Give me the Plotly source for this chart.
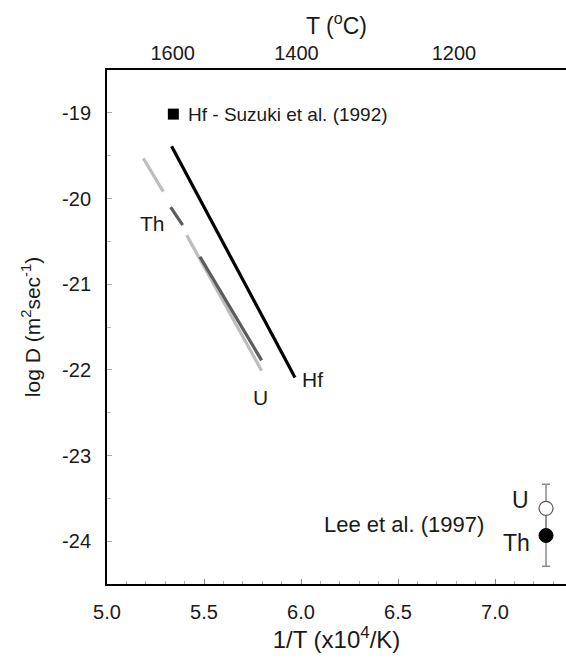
import plotly.graph_objects as go

# ---- data ----
hf_x = [5.333, 5.969]
hf_y = [-19.39, -22.09]

u_dash_x = [5.187, 5.290]
u_dash_y = [-19.53, -19.92]
u_x = [5.411, 5.797]
u_y = [-20.43, -22.01]

th_dash_x = [5.328, 5.390]
th_dash_y = [-20.10, -20.31]
th_x = [5.479, 5.797]
th_y = [-20.68, -21.89]

suzuki_x = [5.342]
suzuki_y = [-19.015]

lee_x = [7.263]
lee_u_y = [-23.617]
lee_u_err = [0.28]
lee_th_y = [-23.934]
lee_th_err = [0.36]

top_T_labels = [1600, 1400, 1200]
x_ticks = [5.0, 5.5, 6.0, 6.5, 7.0]
y_ticks = [-19, -20, -21, -22, -23, -24]

FONT = "Liberation Sans, Arial, sans-serif"
TXT = "#1a1a1a"

fig = go.Figure()

def seg(x, y, color, dash="solid"):
    fig.add_trace(go.Scatter(x=x, y=y, mode="lines",
                             line=dict(color=color, width=3.2, dash=dash),
                             showlegend=False, hoverinfo="skip"))

seg(u_dash_x, u_dash_y, "#bdbdbd")
seg(u_x, u_y, "#bdbdbd")
seg(th_dash_x, th_dash_y, "#5c5c5c")
seg(th_x, th_y, "#5c5c5c")
seg(hf_x, hf_y, "#000000")

fig.add_trace(go.Scatter(x=suzuki_x, y=suzuki_y, mode="markers",
                         marker=dict(symbol="square", size=11, color="black"),
                         showlegend=False))

# error bars first (invisible markers), then the markers on top
for yy, ee in ((lee_th_y, lee_th_err), (lee_u_y, lee_u_err)):
    fig.add_trace(go.Scatter(x=lee_x, y=yy, mode="markers",
                             marker=dict(size=1, opacity=0),
                             error_y=dict(type="data", array=ee, color="#8a8a8a",
                                          thickness=1.5, width=4),
                             showlegend=False, hoverinfo="skip"))
fig.add_trace(go.Scatter(x=lee_x, y=lee_th_y, mode="markers",
                         marker=dict(symbol="circle", size=14, color="black",
                                     line=dict(color="black", width=1)),
                         showlegend=False))
fig.add_trace(go.Scatter(x=lee_x, y=lee_u_y, mode="markers",
                         marker=dict(symbol="circle", size=14, color="white",
                                     line=dict(color="#555555", width=1.2)),
                         showlegend=False))

# dummy trace for top axis
top_vals = [1e4 / (t + 273.15) for t in top_T_labels]
fig.add_trace(go.Scatter(x=[top_vals[0]], y=[-19], xaxis="x2", mode="markers",
                         marker=dict(opacity=0), showlegend=False, hoverinfo="skip"))

def ann(text, x, y, xanchor="center", size=20):
    fig.add_annotation(x=x, y=y, text=text, showarrow=False, xanchor=xanchor,
                       yanchor="middle", font=dict(family=FONT, size=size, color=TXT))

ann("Hf - Suzuki et al. (1992)", 5.405, -19.015, xanchor="left", size=19)
ann("Th", 5.237, -20.29, size=21)
ann("U", 5.789, -22.32, size=21)
ann("Hf", 5.993, -22.11, xanchor="left", size=21)
ann("Lee et al. (1997)", 6.952, -23.81, xanchor="right", size=22)
ann("U", 7.13, -23.52, size=23)
ann("Th", 7.11, -24.02, size=23)

XR = [5.0, 5.0 + 459 / 194]

fig.update_layout(
    width=566, height=658,
    margin=dict(l=107, r=0, t=70, b=74),
    plot_bgcolor="white", paper_bgcolor="white",
    font=dict(family=FONT, size=19, color=TXT),
    xaxis=dict(range=XR, tickvals=x_ticks, ticktext=[f"{v:.1f}" for v in x_ticks],
               showgrid=False, zeroline=False, showline=True, linecolor="black",
               linewidth=2, ticks="inside", ticklen=5, tickcolor="#888",
               minor=dict(dtick=0.1, ticks="inside", ticklen=3, tickcolor="#aaa"),
               tickfont=dict(size=20), ticklabelstandoff=9,
               title=dict(text="1/T (x10<sup>4</sup>/K)", font=dict(size=24), standoff=6)),
    xaxis2=dict(range=XR, overlaying="x", side="top", tickvals=top_vals,
                ticktext=[str(t) for t in top_T_labels], showgrid=False,
                zeroline=False, showline=True, linecolor="black", linewidth=2,
                ticks="", tickfont=dict(size=20), ticklabelstandoff=0,
                title=dict(text="T (<sup>o</sup>C)", font=dict(size=23), standoff=1)),
    yaxis=dict(range=[-24.5, -18.5], tickvals=y_ticks, ticktext=[str(v) for v in y_ticks],
               showgrid=False, zeroline=False, showline=True, linecolor="black",
               linewidth=2, ticks="inside", ticklen=5, tickcolor="#aaa",
               minor=dict(dtick=0.5, ticks="inside", ticklen=4, tickcolor="#bbb"),
               tickfont=dict(size=20), ticklabelstandoff=10,
               title=dict(text="log D (m<sup>2</sup>sec<sup>-1</sup>)", font=dict(size=21),
                          standoff=16)),
)

fig.write_html("out.html")
